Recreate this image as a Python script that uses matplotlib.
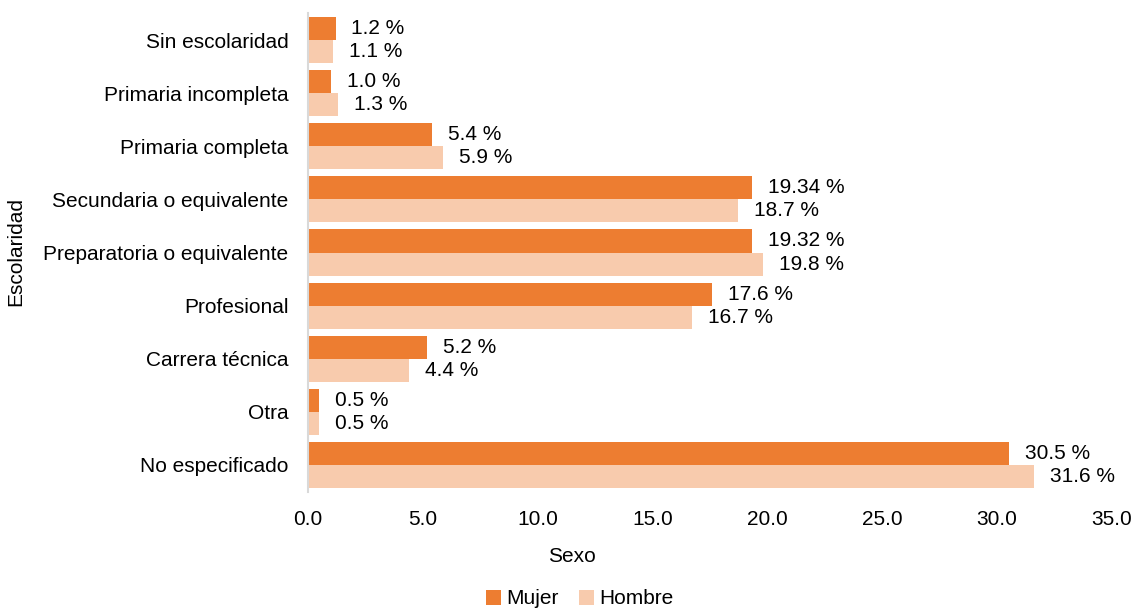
import matplotlib.pyplot as plt
import numpy as np

plt.rcParams['font.family'] = ['Liberation Sans', 'DejaVu Sans']

# Data
categorias = ['Sin escolaridad', 'Primaria incompleta', 'Primaria completa',
              'Secundaria o equivalente', 'Preparatoria o equivalente',
              'Profesional', 'Carrera técnica', 'Otra', 'No especificado']
mujer = [1.2, 1.0, 5.4, 19.34, 19.32, 17.6, 5.2, 0.5, 30.5]
hombre = [1.1, 1.3, 5.9, 18.7, 19.8, 16.7, 4.4, 0.5, 31.6]
etiquetas_mujer = ['1.2 %', '1.0 %', '5.4 %', '19.34 %', '19.32 %', '17.6 %', '5.2 %', '0.5 %', '30.5 %']
etiquetas_hombre = ['1.1 %', '1.3 %', '5.9 %', '18.7 %', '19.8 %', '16.7 %', '4.4 %', '0.5 %', '31.6 %']

fs = 15

fig = plt.figure(figsize=(11.33, 6.08), dpi=100)
ax = fig.add_axes([0.2718, 0.1916, 0.7097, 0.7862])

y = np.arange(len(categorias))
h = 0.435
b1 = ax.barh(y - h / 2, mujer, height=h, color='#ED7D31', label='Mujer')
b2 = ax.barh(y + h / 2, hombre, height=h, color='#F8CBAD', label='Hombre')

for bars, labs in [(b1, etiquetas_mujer), (b2, etiquetas_hombre)]:
    for rect, lab in zip(bars, labs):
        ax.annotate(lab, (rect.get_width(), rect.get_y() + rect.get_height() / 2),
                    xytext=(11.5, 0), textcoords='offset points',
                    va='center', ha='left', fontsize=fs, color='#000000')

ax.set_xlim(0, 35)
ax.set_ylim(len(categorias) - 0.5, -0.5)
ax.set_xticks(np.arange(0, 35.1, 5))
ax.set_xticklabels([f'{v:.1f}' for v in np.arange(0, 35.1, 5)])
ax.set_yticks(y)
ax.set_yticklabels(categorias)
ax.tick_params(axis='both', length=0, labelsize=fs, colors='#000000')
ax.tick_params(axis='x', pad=13)
ax.tick_params(axis='y', pad=14)

for s in ['top', 'right', 'bottom']:
    ax.spines[s].set_visible(False)
ax.spines['left'].set_color('#D9D9D9')
ax.spines['left'].set_linewidth(1.5)

fig.text(572 / 1133, 1 - 557 / 608, 'Sexo', fontsize=fs, ha='center', va='center')
fig.text(16 / 1133, 1 - 252 / 608, 'Escolaridad', fontsize=fs, ha='center', va='center',
         rotation=90)

fig.legend(loc='center', bbox_to_anchor=(580 / 1133, 1 - 599 / 608), ncol=2, frameon=False,
           fontsize=fs, handlelength=0.7, handleheight=0.7, handletextpad=0.25,
           columnspacing=1.0, borderpad=0)

fig.savefig('out.png', dpi=100)
